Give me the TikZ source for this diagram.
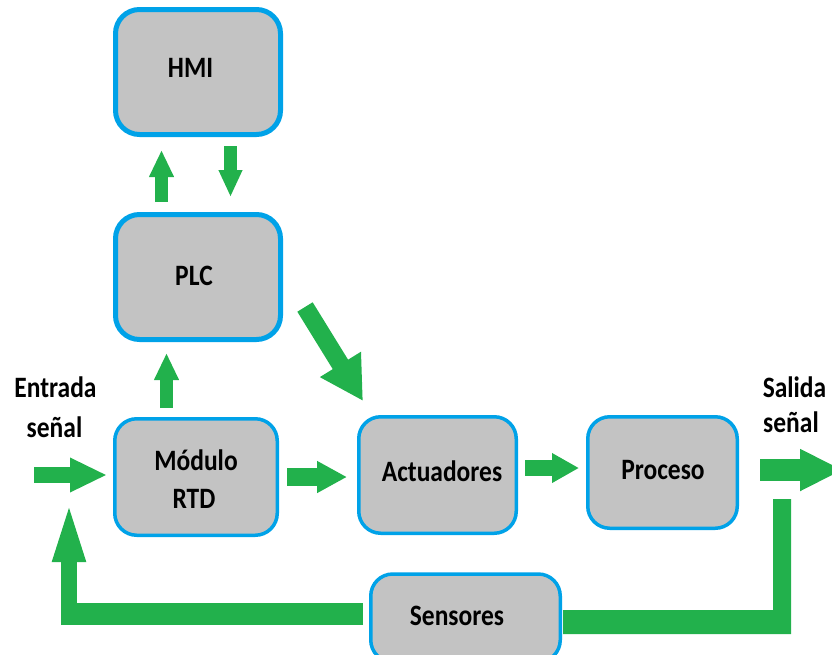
\documentclass[tikz,border=0pt]{standalone}
\usepackage{fontspec}
\setmainfont{Carlito}
\usepackage{graphicx}
\usetikzlibrary{arrows.meta}
\definecolor{boxgray}{HTML}{C3C3C3}
\definecolor{edgeblue}{HTML}{00A2E8}
\definecolor{flowgreen}{HTML}{22B14C}
% labels are set slightly taller than wide
\newcommand\tallword[1]{\scalebox{1}[1.16]{#1}}

\begin{document}
\begin{tikzpicture}[x=1pt,y=-1pt,
  blockbig/.style={draw=edgeblue, fill=boxgray, line width=5pt, rounded corners=24pt,
    minimum width=165pt, minimum height=125pt, inner sep=0pt},
  blocksmall/.style={draw=edgeblue, fill=boxgray, line width=3.5pt, rounded corners=22pt,
    inner sep=0pt},
  word/.style={inner sep=0pt, anchor=base, font=\fontsize{25.5}{30}\selectfont\bfseries},
  flow/.style={draw=flowgreen, line cap=butt}
]
\useasboundingbox (0,0) rectangle (832,654);
\clip (0,0) rectangle (832,654);

% blocks
\node[blockbig] (hmi) at (198,72) {};
\node[blockbig] (plc) at (198,277) {};
\node[blocksmall, minimum width=162.5pt, minimum height=116.5pt] (rtd) at (196,477) {};
\node[blocksmall, minimum width=157.5pt, minimum height=116.5pt] (act) at (437.5,475) {};
\node[blocksmall, minimum width=149.5pt, minimum height=111.5pt] (proc) at (662.5,472.5) {};
\node[blocksmall, minimum width=189.5pt, minimum height=88pt] (sens) at (465.5,618) {};

% labels
\node[word] (thmi) at (190.5,77) {\tallword{HMI}};
\node[word] (tplc) at (194,285) {\tallword{PLC}};
\node[word] (tmod) at (196,470) {\tallword{Módulo}};
\node[word] (trtd) at (194,508) {\tallword{RTD}};
\node[word] (tact) at (442,481) {\tallword{Actuadores}};
\node[word] (tproc) at (663,479) {\tallword{Proceso}};
\node[word] (tsens) at (457,625) {\tallword{Sensores}};
\node[word] (tin1) at (55.5,397) {\tallword{Entrada}};
\node[word] (tin2) at (54.5,437) {\tallword{señal}};
\node[word] (tout1) at (794.5,397) {\tallword{Salida}};
\node[word] (tout2) at (791,432) {\tallword{señal}};

% arrow end points
\coordinate (plcUp) at (161.5,202);   \coordinate (hmiIn) at (161.5,150);
\coordinate (hmiDn) at (230.5,146);   \coordinate (plcIn) at (230.5,197);
\coordinate (rtdUp) at (166.5,408);   \coordinate (plcBot) at (166.5,353);
\coordinate (inStart) at (34,475);    \coordinate (rtdIn) at (107,475);
\coordinate (rtdOut) at (287,477);    \coordinate (actIn) at (347,477);
\coordinate (plcOut) at (305,307);    \coordinate (actTop) at (363,401);
\coordinate (actOut) at (525,468);    \coordinate (procIn) at (579,468);
\coordinate (procOut) at (760,470);   \coordinate (outEnd) at (843,470);
\coordinate (sensOut) at (363,614);   \coordinate (fbCorner) at (61,614);
\coordinate (fbStart) at (69,625);    \coordinate (fbTip) at (69,495);

% flows
\draw[flow, line width=13pt, -{Triangle[length=27pt,width=23pt]}] (plcUp) -- (hmiIn);
\draw[flow, line width=13pt, -{Triangle[length=27pt,width=22pt]}] (hmiDn) -- (plcIn);
\draw[flow, line width=13pt, -{Triangle[length=27pt,width=23pt]}] (rtdUp) -- (plcBot);
\draw[flow, line width=16pt, -{Triangle[length=37pt,width=32pt]}] (inStart) -- (rtdIn);
\draw[flow, line width=18pt, -{Triangle[length=30pt,width=30pt]}] (rtdOut) -- (actIn);
\draw[flow, line width=18pt, -{Triangle[length=43pt,width=45pt]}] (plcOut) -- (actTop);
\draw[flow, line width=16pt, -{Triangle[length=27pt,width=28pt]}] (actOut) -- (procIn);
\draw[flow, line width=22pt, -{Triangle[length=43pt,width=39pt]}] (procOut) -- (outEnd);

% feedback from the sensors to the input
\draw[flow, line width=22pt] (sensOut) -- (fbCorner);
\draw[flow, line width=16pt, -{Triangle[length=67pt,width=28pt]}] (fbStart) -- (fbTip);

% measured output taken into the sensors
\fill[flowgreen] (563,610) -- (773,610) -- (773,499) -- (791,499) -- (791,634) -- (563,634) -- cycle;
\end{tikzpicture}
\end{document}
